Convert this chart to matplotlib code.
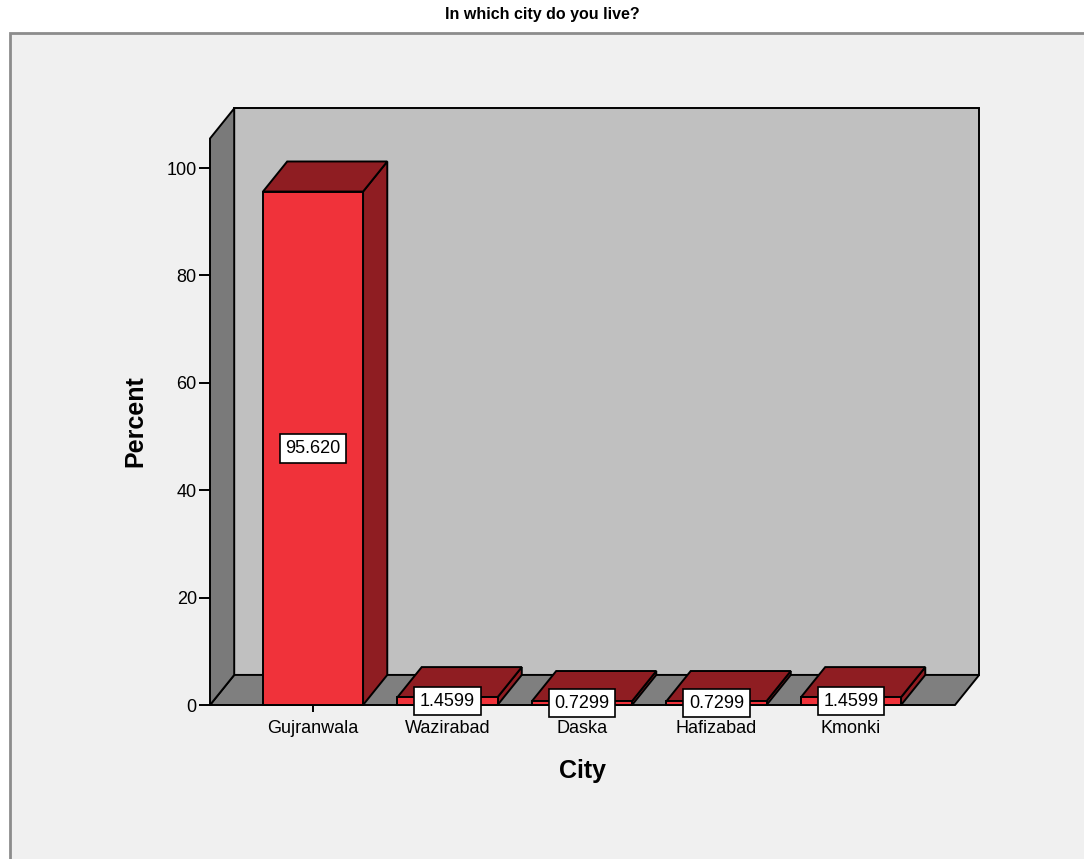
import matplotlib
matplotlib.use("Agg")
import matplotlib.pyplot as plt
from matplotlib.patches import Polygon, Rectangle

# data
cities = ["Gujranwala", "Wazirabad", "Daska", "Hafizabad", "Kmonki"]
percent = [95.620, 1.4599, 0.7299, 0.7299, 1.4599]
yticks = [0, 20, 40, 60, 80, 100]

# style
W, H = 1084, 859
red_front = "#F0323A"
red_dark = "#8F1D22"
wall_side = "#7A7A7A"
floor_col = "#7F7F7F"
wall_back = "#C0C0C0"
frame_bg = "#F0F0F0"
DX, DY = 0.18, 5.6          # depth offset in data units
bar_w = 0.744
xlim = (-0.766, 4.773)
ytop = 105.5

plt.rcParams["font.family"] = ["Liberation Sans", "DejaVu Sans"]

fig = plt.figure(figsize=(W / 100, H / 100), dpi=100, facecolor="white")
fig.patches.append(Rectangle((10 / W, -0.1), 1.2, (H - 33) / H + 0.1,
                             transform=fig.transFigure, facecolor=frame_bg,
                             edgecolor="#8C8C8C", lw=2, zorder=-5))

fig.text(542 / W, 1 - 14 / H, "In which city do you live?", ha="center", va="center",
         fontsize=11.5, fontweight="bold",
         family=["Liberation Sans Narrow", "DejaVu Sans Condensed", "Liberation Sans"])

ax = fig.add_axes([210 / W, (H - 705) / H, 745 / W, (705 - 138.5) / H])
ax.set_facecolor("none")
for s in ax.spines.values():
    s.set_visible(False)
ax.set_xlim(*xlim)
ax.set_ylim(0, ytop)

lw = 1.4
xl, xr = xlim
# back wall, floor, left wall
ax.add_patch(Polygon([(xl + DX, DY), (xr + DX, DY), (xr + DX, ytop + DY), (xl + DX, ytop + DY)],
                     closed=True, facecolor=wall_back, edgecolor="black", lw=lw, clip_on=False, zorder=1))
ax.add_patch(Polygon([(xl, 0), (xr, 0), (xr + DX, DY), (xl + DX, DY)],
                     closed=True, facecolor=floor_col, edgecolor="black", lw=lw, clip_on=False, zorder=1.1))
ax.add_patch(Polygon([(xl, 0), (xl, ytop), (xl + DX, ytop + DY), (xl + DX, DY)],
                     closed=True, facecolor=wall_side, edgecolor="black", lw=lw, clip_on=False, zorder=1.2))

for i, v in enumerate(percent):
    a, b = i - bar_w / 2, i + bar_w / 2
    ax.add_patch(Polygon([(b, 0), (b + DX, DY), (b + DX, v + DY), (b, v)], closed=True,
                         facecolor=red_dark, edgecolor="black", lw=lw, clip_on=False, zorder=2))
    ax.add_patch(Polygon([(a, v), (b, v), (b + DX, v + DY), (a + DX, v + DY)], closed=True,
                         facecolor=red_dark, edgecolor="black", lw=lw, clip_on=False, zorder=2))
    ax.bar(i, v, width=bar_w, color=red_front, edgecolor="black", lw=lw, zorder=2.1, clip_on=False)
    label = f"{v:.{5 - len(str(int(v)))}f}"
    ax.text(i, v / 2, label, ha="center", va="center", fontsize=13, zorder=5,
            bbox=dict(boxstyle="square,pad=0.32", facecolor="white", edgecolor="black", lw=1.2))

ax.set_yticks(yticks)
ax.set_xticks(range(len(cities)))
ax.set_xticklabels(cities)
ax.tick_params(axis="y", length=8, width=1.4, pad=1.5, labelsize=13, direction="out")
ax.tick_params(axis="x", length=5, width=1.4, pad=6, labelsize=13, direction="out")

fig.text(135 / W, 1 - 421 / H, "Percent", rotation=90, ha="center", va="center",
         fontsize=18, fontweight="bold")
fig.text(583 / W, 1 - 771 / H, "City", ha="center", va="center",
         fontsize=18, fontweight="bold")

fig.savefig("out.png", dpi=100, facecolor="white")
